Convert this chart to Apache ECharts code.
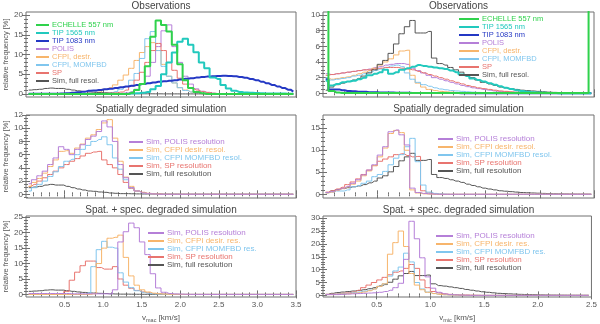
<!DOCTYPE html>
<html>
<head>
<meta charset="utf-8">
<script src="https://cdn.jsdelivr.net/npm/echarts@6/dist/echarts.min.js"></script>
<style>
html, body { margin: 0; padding: 0; background: #fff; }
#chart { width: 600px; height: 324px; }
</style>
</head>
<body>
<div id="chart"></div>
<script>
// bin widths (50 bins per panel)
var binMac = 0.07
var binMic = 0.05

// tick labels
var xTicksMac = [0.5, 1.0, 1.5, 2.0, 2.5, 3.0, 3.5]
var xTicksMic = [0.5, 1.0, 1.5, 2.0, 2.5]
var yTicksObsMac = [0, 5, 10, 15, 20]
var yTicksObsMic = [0, 2, 4, 6, 8, 10]
var yTicksSimMac = [0, 2, 4, 6, 8, 10, 12]
var yTicksSimMic = [0, 5, 10, 15]
var yTicksSpecMac = [0, 5, 10, 15, 20, 25]
var yTicksSpecMic = [0, 5, 10, 15, 20, 25, 30]

// observations, v_mac
var echelleMac = [0,0,0,0,0,0,0,0,0,0, 0,0,0,0,0,0,0,0,0,0.3, 1.0,2.5,7.0,14.5,18.6,17.5,15.8,12.5,7.5,3.5, 1.5,0.5,0.2,0,0,0,0,0,0,0, 0,0,0,0,0,0,0,0,0,0]
var tip1565Mac = [0,0,0,0,0,0,0,0,0,0, 0,0,0,0,0,0,0,0,0,0.1, 0.2,0.3,0.5,1.2,2.0,5.0,8.0,10.5,13.2,14.0, 12.5,10.6,8.0,6.5,4.2,3.8,2.3,1.4,0.8,0.5, 0.35,0.3,0.25,0.2,0.15,0.12,0.1,0.1,0.08,0.05]
var tip1083Mac = [0.05,0.05,0.05,0.05,0.05,0.05,0.1,0.2,0.3,0.45, 0.6,0.8,0.9,1.0,1.2,1.35,1.5,1.7,1.9,2.1, 2.3,2.5,2.7,2.9,3.1,3.2,3.35,3.5,3.7,3.85, 4.0,4.15,4.3,4.4,4.5,4.55,4.6,4.55,4.5,4.3, 4.1,3.8,3.5,3.1,2.7,2.3,1.9,1.5,1.1,0.6]
var polisMac = [0,0,0,0,0,0,0,0,0,0, 0,0,0,0,0,0,0,0.2,0.3,0.6, 1.2,2.5,4.5,8.0,12.0,16.0,17.5,12.0,8.0,4.5, 2.5,1.3,0.7,0.4,0.2,0.1,0,0,0,0, 0,0,0,0,0,0,0,0,0,0]
var destrMac = [0,0,0,0,0,0,0,0,0,0, 0,0,0.2,0.5,1.2,1.6,2.3,3.5,4.8,6.5, 8.5,10.5,12.0,13.0,11.0,7.5,4.5,2.8,1.6,1.0, 0.5,0.3,0.1,0,0,0,0,0,0,0, 0,0,0,0,0,0,0,0,0,0]
var momfbdMac = [0,0,0,0,0,0,0,0,0,0, 0,0,0,0,0,0.3,0.6,1.2,1.9,3.5, 5.2,9.0,14.0,15.8,11.0,7.0,4.5,2.8,1.6,0.9, 0.5,0.3,0.15,0.05,0,0,0,0,0,0, 0,0,0,0,0,0,0,0,0,0]
var spMac = [0,0,0,0,0,0,0,0,0,0, 0.1,0.1,0.1,0.15,0.2,0.25,0.3,0.5,1.0,2.0, 3.5,5.5,8.0,11.0,12.8,11.0,8.0,6.0,4.0,2.5, 1.5,1.0,0.6,0.4,0.2,0.1,0,0,0,0, 0,0,0,0,0,0,0,0,0,0]
var simFullMac = [1.0,1.1,1.2,1.4,1.5,1.4,1.4,1.2,1.0,0.8, 0.65,0.5,0.45,0.35,0.3,0.2,0.15,0.1,0.1,0.08, 0.06,0.05,0.05,0.04,0.04,0.03,0.03,0.03,0.02,0.02, 0.02,0.02,0.02,0.02,0.02,0.02,0.02,0.02,0.02,0.02, 0.02,0.02,0.02,0.02,0.02,0.02,0.02,0.02,0.02,0.02]

// observations, v_mic
var echelleMic = [12,0.3,0.1,0.05,0.05,0.05,0.05,0.05,0.05,0.05, 0.05,0.05,0.05,0.05,0.05,0.05,0.05,0.05,0.05,0.05, 0.05,0.05,0.05,0.05,0.05,0.05,0.05,0.05,0.05,0.05, 0.05,0.05,0.05,0.05,0.05,0.05,0.05,0.05,0.05,0.05, 0.05,0.05,0.05,0.05,0.05,0.05,0.05,0.05,0.05,12]
var tip1565Mic = [1.6,1.0,1.2,1.4,1.5,1.6,1.8,2.0,2.3,2.5, 2.7,3.0,2.5,2.7,3.0,3.2,3.4,3.6,3.5,3.4, 3.3,3.2,3.1,2.9,2.7,2.4,2.2,1.9,1.7,1.5, 1.3,1.1,0.9,0.7,0.55,0.4,0.3,0.2,0.15,0.1, 0.08,0.05,0.03,0.02,0.02,0.01,0.01,0.01,0.01,0.01]
var tip1083Mic = [1.8,0.5,0.5,0.4,0.3,0.25,0.2,0.2,0.15,0.15, 0.12,0.1,0.1,0.08,0.08,0.06,0.05,0.05,0.04,0.04, 0.03,0.03,0.03,0.03,0.03,0.02,0.02,0.02,0.02,0.02, 0.02,0.02,0.02,0.02,0.02,0.02,0.02,0.02,0.02,0.02, 0.02,0.02,0.02,0.02,0.02,0.02,0.02,0.02,0.02,0.02]
var polisMic = [2.5,2.4,2.5,2.6,2.7,2.8,2.9,3.0,3.1,3.3, 3.4,3.6,3.7,3.8,3.8,3.7,3.2,2.9,2.6,2.3, 2.0,1.8,1.6,1.4,1.2,1.0,0.85,0.7,0.6,0.5, 0.4,0.3,0.25,0.2,0.15,0.12,0.1,0.08,0.06,0.05, 0.04,0.03,0.03,0.02,0.02,0.02,0.01,0.01,0.01,0.01]
var destrMic = [2.0,1.8,1.9,2.0,2.1,2.3,2.5,2.7,2.9,3.2, 3.6,4.0,4.4,4.9,5.4,5.5,2.3,1.3,0.8,0.5, 0.35,0.25,0.2,0.15,0.1,0.08,0.06,0.05,0.04,0.03, 0.02,0.02,0.02,0.02,0.02,0.01,0.01,0.01,0.01,0.01, 0.01,0.01,0.01,0.01,0.01,0.01,0.01,0.01,0.01,0.01]
var momfbdMic = [2.0,1.7,1.8,1.9,2.0,2.2,2.3,2.5,2.7,2.9, 3.1,3.3,3.5,3.6,3.4,2.6,1.8,1.4,1.1,0.9, 0.7,0.55,0.45,0.35,0.3,0.25,0.2,0.15,0.12,0.1, 0.08,0.06,0.05,0.04,0.03,0.02,0.02,0.02,0.01,0.01, 0.01,0.01,0.01,0.01,0.01,0.01,0.01,0.01,0.01,0.01]
var spMic = [2.3,2.4,2.5,2.6,2.7,2.8,2.9,3.0,3.0,3.1, 3.2,3.3,3.3,3.3,3.2,3.1,3.0,2.8,2.6,2.4, 2.2,2.0,1.8,1.6,1.4,1.2,1.0,0.85,0.7,0.6, 0.5,0.4,0.3,0.25,0.2,0.15,0.1,0.08,0.06,0.05, 0.04,0.03,0.02,0.02,0.02,0.01,0.01,0.01,0.01,0.01]
var simFullMic = [0.4,0.8,1.1,1.3,1.5,1.7,1.9,2.2,2.6,3.0, 3.7,4.2,5.1,6.3,7.6,8.5,9.3,7.7,7.7,7.9, 4.5,3.8,3.6,3.3,3.0,2.7,2.3,2.0,1.7,1.4, 1.2,1.0,0.8,0.7,0.6,0.5,0.4,0.35,0.3,0.25, 0.2,0.15,0.12,0.1,0.08,0.06,0.05,0.04,0.03,0.02]

// spatially degraded simulation, v_mac
var polisSimMac = [1.6,2.2,2.8,3.5,4.5,5.5,7.2,6.8,6.0,6.8, 7.5,8.3,8.8,9.5,11.1,10.2,8.0,4.5,2.5,1.0, 0.5,0.2,0.1,0.05,0,0,0,0,0,0, 0,0,0,0,0,0,0,0,0,0, 0,0,0,0,0,0,0,0,0,0]
var destrSimMac = [1.2,1.8,2.4,3.2,4.2,5.2,6.5,6.6,6.2,7.0, 7.6,8.5,9.0,9.8,10.8,11.3,8.5,5.0,2.6,1.2, 0.5,0.25,0.1,0.05,0,0,0,0,0,0, 0,0,0,0,0,0,0,0,0,0, 0,0,0,0,0,0,0,0,0,0]
var momfbdSimMac = [0.5,1.0,1.5,2.0,2.7,3.4,4.2,5.0,5.3,6.0, 6.8,7.4,8.0,8.3,8.7,7.5,5.5,3.8,2.2,1.0, 0.5,0.2,0.1,0.05,0,0,0,0,0,0, 0,0,0,0,0,0,0,0,0,0, 0,0,0,0,0,0,0,0,0,0]
var spSimMac = [1.2,1.5,2.0,2.5,3.0,3.5,4.0,4.5,5.0,5.4, 5.8,6.2,6.4,6.5,5.2,4.5,4.0,3.0,1.8,0.9, 0.5,0.3,0.15,0.1,0.05,0,0,0,0,0, 0,0,0,0,0,0,0,0,0,0, 0,0,0,0,0,0,0,0,0,0]

// spatially degraded simulation, v_mic
var polisSimMic = [0.4,0.6,1.0,1.4,1.8,2.5,3.3,4.4,5.5,6.7, 8.9,10.8,14.2,14.6,13.5,11.2,1.4,0.4,0.2,0.1, 0.05,0,0,0,0,0,0,0,0,0, 0,0,0,0,0,0,0,0,0,0, 0,0,0,0,0,0,0,0,0,0]
var destrSimMic = [0.3,0.5,0.9,1.3,1.7,2.3,3.0,4.2,5.3,6.5, 8.5,10.5,13.8,14.5,14.0,10.0,1.0,0.3,0.1,0.05, 0,0,0,0,0,0,0,0,0,0, 0,0,0,0,0,0,0,0,0,0, 0,0,0,0,0,0,0,0,0,0]
var momfbdSimMic = [0.3,0.5,0.75,0.75,1.0,1.7,2.0,2.5,3.0,4.0, 4.5,5.2,6.7,8.2,9.0,10.8,12.7,7.4,2.1,0.5, 0.2,0.1,0.05,0,0,0,0,0,0,0, 0,0,0,0,0,0,0,0,0,0, 0,0,0,0,0,0,0,0,0,0]
var spSimMic = [0.5,0.8,1.2,1.6,2.2,2.8,3.5,4.5,5.5,6.5, 7.5,8.0,8.5,9.0,9.2,8.8,8.5,8.6,0.8,0.3, 0.1,0.05,0,0,0,0,0,0,0,0, 0,0,0,0,0,0,0,0,0,0, 0,0,0,0,0,0,0,0,0,0]

// spatially + spectrally degraded simulation, v_mac
var polisSpecMac = [0.3,0.3,0.3,0.3,0.3,0.3,0.3,0.3,0.2,0.2, 0.2,0.2,0.2,0.2,0.2,0.2,1.5,17.0,20.3,23.1, 21.6,17.0,12.9,6.7,2.1,0.7,0.3,0.15,0.1,0.05, 0,0,0,0,0,0,0,0,0,0, 0,0,0,0,0,0,0,0,0,0]
var destrSpecMac = [0,0,0,0,0,0,0,0,0,0, 0,0,0.2,10.0,15.0,18.2,18.5,19.2,12.0,6.0, 3.0,1.5,0.8,0.4,0.2,0.1,0.05,0,0,0, 0,0,0,0,0,0,0,0,0,0, 0,0,0,0,0,0,0,0,0,0]
var momfbdSpecMac = [0,0,0,0,0,0,0,0,0,0, 0,0.5,9.0,14.5,17.2,15.3,15.0,7.0,4.0,2.2, 1.2,0.7,0.4,0.2,0.1,0.05,0,0,0,0, 0,0,0,0,0,0,0,0,0,0, 0,0,0,0,0,0,0,0,0,0]
var spSpecMac = [0.1,0.1,0.1,0.1,0.1,0.1,0.2,1.0,4.6,7.2, 9.3,10.8,10.8,8.7,8.2,8.2,9.0,5.0,3.0,2.0, 1.3,0.8,0.5,0.3,0.2,0.1,0.05,0,0,0, 0,0,0,0,0,0,0,0,0,0, 0,0,0,0,0,0,0,0,0,0]

// spatially + spectrally degraded simulation, v_mic
var polisSpecMic = [0.3,0.3,0.3,0.4,0.5,0.6,0.7,0.8,0.9,1.0, 1.2,1.5,2.0,3.0,4.7,14.0,28.8,22.0,14.6,7.2, 2.8,1.2,0.6,0.3,0.2,0.1,0.05,0,0,0, 0,0,0,0,0,0,0,0,0,0, 0,0,0,0,0,0,0,0,0,0]
var destrSpecMic = [0.3,0.3,0.4,0.5,0.6,0.8,1.0,1.3,1.8,2.5, 3.5,4.5,16.0,20.5,25.0,19.0,8.5,4.0,2.2,1.2, 0.7,0.4,0.25,0.15,0.1,0.05,0,0,0,0, 0,0,0,0,0,0,0,0,0,0, 0,0,0,0,0,0,0,0,0,0]
var momfbdSpecMic = [0.3,0.4,0.5,0.6,0.8,1.0,1.3,1.6,2.0,2.5, 3.5,4.5,7.5,9.5,11.0,16.4,13.0,5.0,2.5,1.3, 0.7,0.4,0.25,0.15,0.1,0.05,0,0,0,0, 0,0,0,0,0,0,0,0,0,0, 0,0,0,0,0,0,0,0,0,0]
var spSpecMic = [0.4,0.5,0.6,0.8,1.0,1.3,2.0,3.0,4.0,5.0, 6.0,7.0,8.0,9.0,9.5,10.5,12.0,10.5,6.0,3.0, 1.5,0.9,0.6,0.4,0.3,0.2,0.15,0.1,0.05,0, 0,0,0,0,0,0,0,0,0,0, 0,0,0,0,0,0,0,0,0,0]

// colours
var cEchelle = '#2fd24c'
var cTip1565 = '#22c9bd'
var cTip1083 = '#2438c4'
var cPolis = '#b57fd8'
var cDestr = '#f7b56c'
var cMomfbd = '#80c6ee'
var cSp = '#e8746f'
var cFull = '#555555'
var axisColor = '#707070'
var textColor = '#555555'
var font = 'Liberation Sans'

var panels = [
    {
        left: 26, top: 12, width: 270, height: 85, bin: binMac, xMax: 3.5, xTicks: xTicksMac,
        yMin: -0.76, yMax: 20.76, yTicks: yTicksObsMac, yMinor: 1, title: 'Observations',
        legend: {left: 35, top: 21, itemWidth: 13, rowH: 7.6, size: 7.5},
        lines: [
            ['POLIS', polisMac, cPolis, 1], ['CFPI, destr.', destrMac, cDestr, 1],
            ['CFPI, MOMFBD', momfbdMac, cMomfbd, 1], ['SP', spMac, cSp, 1],
            ['Sim, full resol.', simFullMac, cFull, 1],
            ['TIP 1083 nm', tip1083Mac, cTip1083, 2], ['TIP 1565 nm', tip1565Mac, cTip1565, 2],
            ['ECHELLE 557 nm', echelleMac, cEchelle, 2]
        ],
        order: ['ECHELLE 557 nm', 'TIP 1565 nm', 'TIP 1083 nm', 'POLIS', 'CFPI, destr.', 'CFPI, MOMFBD', 'SP', 'Sim, full resol.']
    },
    {
        left: 323, top: 12, width: 271, height: 85, bin: binMic, xMax: 2.5, xTicks: xTicksMic,
        yMin: -0.47, yMax: 10.38, yTicks: yTicksObsMic, yMinor: 0.5, title: 'Observations',
        legend: {left: 458, top: 15, itemWidth: 20, rowH: 7.1, size: 7.5},
        lines: [
            ['POLIS', polisMic, cPolis, 1], ['CFPI, destr.', destrMic, cDestr, 1],
            ['CFPI, MOMFBD', momfbdMic, cMomfbd, 1], ['SP', spMic, cSp, 1],
            ['Sim, full resol.', simFullMic, cFull, 1],
            ['TIP 1083 nm', tip1083Mic, cTip1083, 2], ['TIP 1565 nm', tip1565Mic, cTip1565, 2],
            ['ECHELLE 557 nm', echelleMic, cEchelle, 2]
        ],
        order: ['ECHELLE 557 nm', 'TIP 1565 nm', 'TIP 1083 nm', 'POLIS', 'CFPI, destr.', 'CFPI, MOMFBD', 'SP', 'Sim, full resol.']
    },
    {
        left: 26, top: 115, width: 270, height: 83, bin: binMac, xMax: 3.5, xTicks: xTicksMac,
        yMin: -0.56, yMax: 12.0, yTicks: yTicksSimMac, yMinor: 0.5, title: 'Spatially degraded simulation',
        legend: {left: 128, top: 138, itemWidth: 14, rowH: 7.4, size: 8},
        lines: [
            ['Sim, full resolution', simFullMac, cFull, 1], ['Sim, SP resolution', spSimMac, cSp, 1],
            ['Sim, CFPI MOMFBD resol.', momfbdSimMac, cMomfbd, 1], ['Sim, CFPI desir. resol.', destrSimMac, cDestr, 1],
            ['Sim, POLIS resolution', polisSimMac, cPolis, 1]
        ],
        order: ['Sim, POLIS resolution', 'Sim, CFPI desir. resol.', 'Sim, CFPI MOMFBD resol.', 'Sim, SP resolution', 'Sim, full resolution']
    },
    {
        left: 323, top: 115, width: 271, height: 83, bin: binMic, xMax: 2.5, xTicks: xTicksMic,
        yMin: -0.84, yMax: 18.0, yTicks: yTicksSimMic, yMinor: 1, title: 'Spatially degraded simulation',
        legend: {left: 437, top: 135, itemWidth: 15, rowH: 7.3, size: 8},
        lines: [
            ['Sim, full resolution', simFullMic, cFull, 1], ['Sim, SP resolution', spSimMic, cSp, 1],
            ['Sim, CFPI MOMFBD resol.', momfbdSimMic, cMomfbd, 1], ['Sim, CFPI desir. resol.', destrSimMic, cDestr, 1],
            ['Sim, POLIS resolution', polisSimMic, cPolis, 1]
        ],
        order: ['Sim, POLIS resolution', 'Sim, CFPI desir. resol.', 'Sim, CFPI MOMFBD resol.', 'Sim, SP resolution', 'Sim, full resolution']
    },
    {
        left: 26, top: 216, width: 270, height: 85, bin: binMac, xMax: 3.5, xTicks: xTicksMac,
        yMin: -0.83, yMax: 25.4, yTicks: yTicksSpecMac, yMinor: 1, title: 'Spat. + spec. degraded simulation',
        legend: {left: 147, top: 229, itemWidth: 16, rowH: 7.0, size: 8},
        lines: [
            ['Sim, full resolution', simFullMac, cFull, 1], ['Sim, SP resolution', spSpecMac, cSp, 1],
            ['Sim, CFPI MOMFBD res.', momfbdSpecMac, cMomfbd, 1], ['Sim, CFPI desir. res.', destrSpecMac, cDestr, 1],
            ['Sim, POLIS resolution', polisSpecMac, cPolis, 1]
        ],
        order: ['Sim, POLIS resolution', 'Sim, CFPI desir. res.', 'Sim, CFPI MOMFBD res.', 'Sim, SP resolution', 'Sim, full resolution']
    },
    {
        left: 323, top: 216, width: 271, height: 85, bin: binMic, xMax: 2.5, xTicks: xTicksMic,
        yMin: -0.63, yMax: 30.85, yTicks: yTicksSpecMic, yMinor: 1, title: 'Spat. + spec. degraded simulation',
        legend: {left: 435, top: 232, itemWidth: 17, rowH: 7.7, size: 8},
        lines: [
            ['Sim, full resolution', simFullMic, cFull, 1], ['Sim, SP resolution', spSpecMic, cSp, 1],
            ['Sim, CFPI MOMFBD res.', momfbdSpecMic, cMomfbd, 1], ['Sim, CFPI desir. res.', destrSpecMic, cDestr, 1],
            ['Sim, POLIS resolution', polisSpecMic, cPolis, 1]
        ],
        order: ['Sim, POLIS resolution', 'Sim, CFPI desir. res.', 'Sim, CFPI MOMFBD res.', 'Sim, SP resolution', 'Sim, full resolution']
    }
]

var colorOf = {}
panels.forEach(function (p) {
    p.lines.forEach(function (l) { colorOf[l[0]] = l[2] })
})

// histogram bars drawn at bin centres
function steps (values, bin) {
    return values.map(function (v, i) { return [(i + 0.5) * bin, v] })
}

// minor tick positions between the labelled ones
function minorTicks (min, max, step, majors) {
    var out = []
    for (var v = Math.ceil(min / step) * step; v <= max + 1e-9; v += step) {
        var r = Math.round(v * 1000) / 1000
        if (majors.indexOf(r) < 0 && r > min && r < max) out.push(r)
    }
    return out
}

var option = {
    animation: false,
    grid: [], xAxis: [], yAxis: [], series: [], legend: [], graphic: []
}

panels.forEach(function (p, k) {
    var bottomRow = k >= 4
    var leftCol = k % 2 === 0
    option.grid.push({
        left: p.left, top: p.top, width: p.width, height: p.height,
        show: true, borderColor: axisColor, borderWidth: 1, backgroundColor: 'transparent'
    })
    var xMinor = minorTicks(0, p.xMax, 0.1, p.xTicks)
    var yMinor = minorTicks(p.yMin, p.yMax, p.yMinor, p.yTicks)
    ;['bottom', 'top'].forEach(function (pos) {
        [true, false].forEach(function (major) {
            var showLabel = major && pos === 'bottom' && bottomRow
            option.xAxis.push({
                type: 'value', gridIndex: k, position: pos, min: 0, max: p.xMax,
                axisLine: {show: false}, splitLine: {show: false},
                axisTick: {show: true, inside: true, length: major ? 4 : 2,
                    lineStyle: {color: axisColor}, customValues: major ? p.xTicks : xMinor},
                axisLabel: {show: showLabel, customValues: p.xTicks, margin: 4, fontSize: 8,
                    color: textColor, fontFamily: font,
                    formatter: function (v) { return v.toFixed(1) }},
                name: showLabel ? (leftCol ? 'v{s|mac} [km/s]' : 'v{s|mic} [km/s]') : '',
                nameLocation: 'middle', nameGap: 15,
                nameTextStyle: {fontSize: 8, color: textColor, fontFamily: font,
                    rich: {s: {fontSize: 5.5, color: textColor, fontFamily: font, padding: [5, 0, 0, 0]}}}
            })
        })
    })
    ;['left', 'right'].forEach(function (pos) {
        [true, false].forEach(function (major) {
            var showLabel = major && pos === 'left'
            option.yAxis.push({
                type: 'value', gridIndex: k, position: pos, min: p.yMin, max: p.yMax,
                axisLine: {show: false}, splitLine: {show: false},
                axisTick: {show: true, inside: true, length: major ? 4 : 2,
                    lineStyle: {color: axisColor}, customValues: major ? p.yTicks : yMinor},
                axisLabel: {show: showLabel, customValues: p.yTicks, margin: 3, fontSize: 8,
                    color: textColor, fontFamily: font},
                name: showLabel && leftCol ? 'relative frequency [%]' : '',
                nameLocation: 'middle', nameGap: 13,
                nameTextStyle: {fontSize: 7.5, color: textColor, fontFamily: font}
            })
        })
    })
    p.lines.forEach(function (l) {
        option.series.push({
            name: l[0], type: 'line', step: 'middle', symbol: 'none',
            xAxisIndex: 4 * k, yAxisIndex: 4 * k,
            data: steps(l[1], p.bin),
            lineStyle: {color: l[2], width: l[3]}, itemStyle: {color: l[2]},
            clip: true, silent: true
        })
    })
    option.legend.push({
        orient: 'vertical', left: p.legend.left, top: p.legend.top,
        itemWidth: p.legend.itemWidth, itemHeight: 6, itemGap: 0, padding: 0,
        selectedMode: false,
        itemStyle: {opacity: 0, borderWidth: 0},
        textStyle: {fontSize: p.legend.size, fontFamily: font, lineHeight: p.legend.rowH, padding: [0, 0, 0, -2]},
        data: p.order.map(function (n) { return {name: n, textStyle: {color: colorOf[n]}} })
    })
    option.graphic.push({
        type: 'text', x: p.left + p.width / 2, y: p.top - 6,
        style: {text: p.title, fill: '#444', font: '10px "Liberation Sans"',
            textAlign: 'center', textVerticalAlign: 'middle'}
    })
})

var chart = echarts.init(document.getElementById('chart'), null, {renderer: 'canvas'})
chart.setOption(option)
</script>
</body>
</html>
